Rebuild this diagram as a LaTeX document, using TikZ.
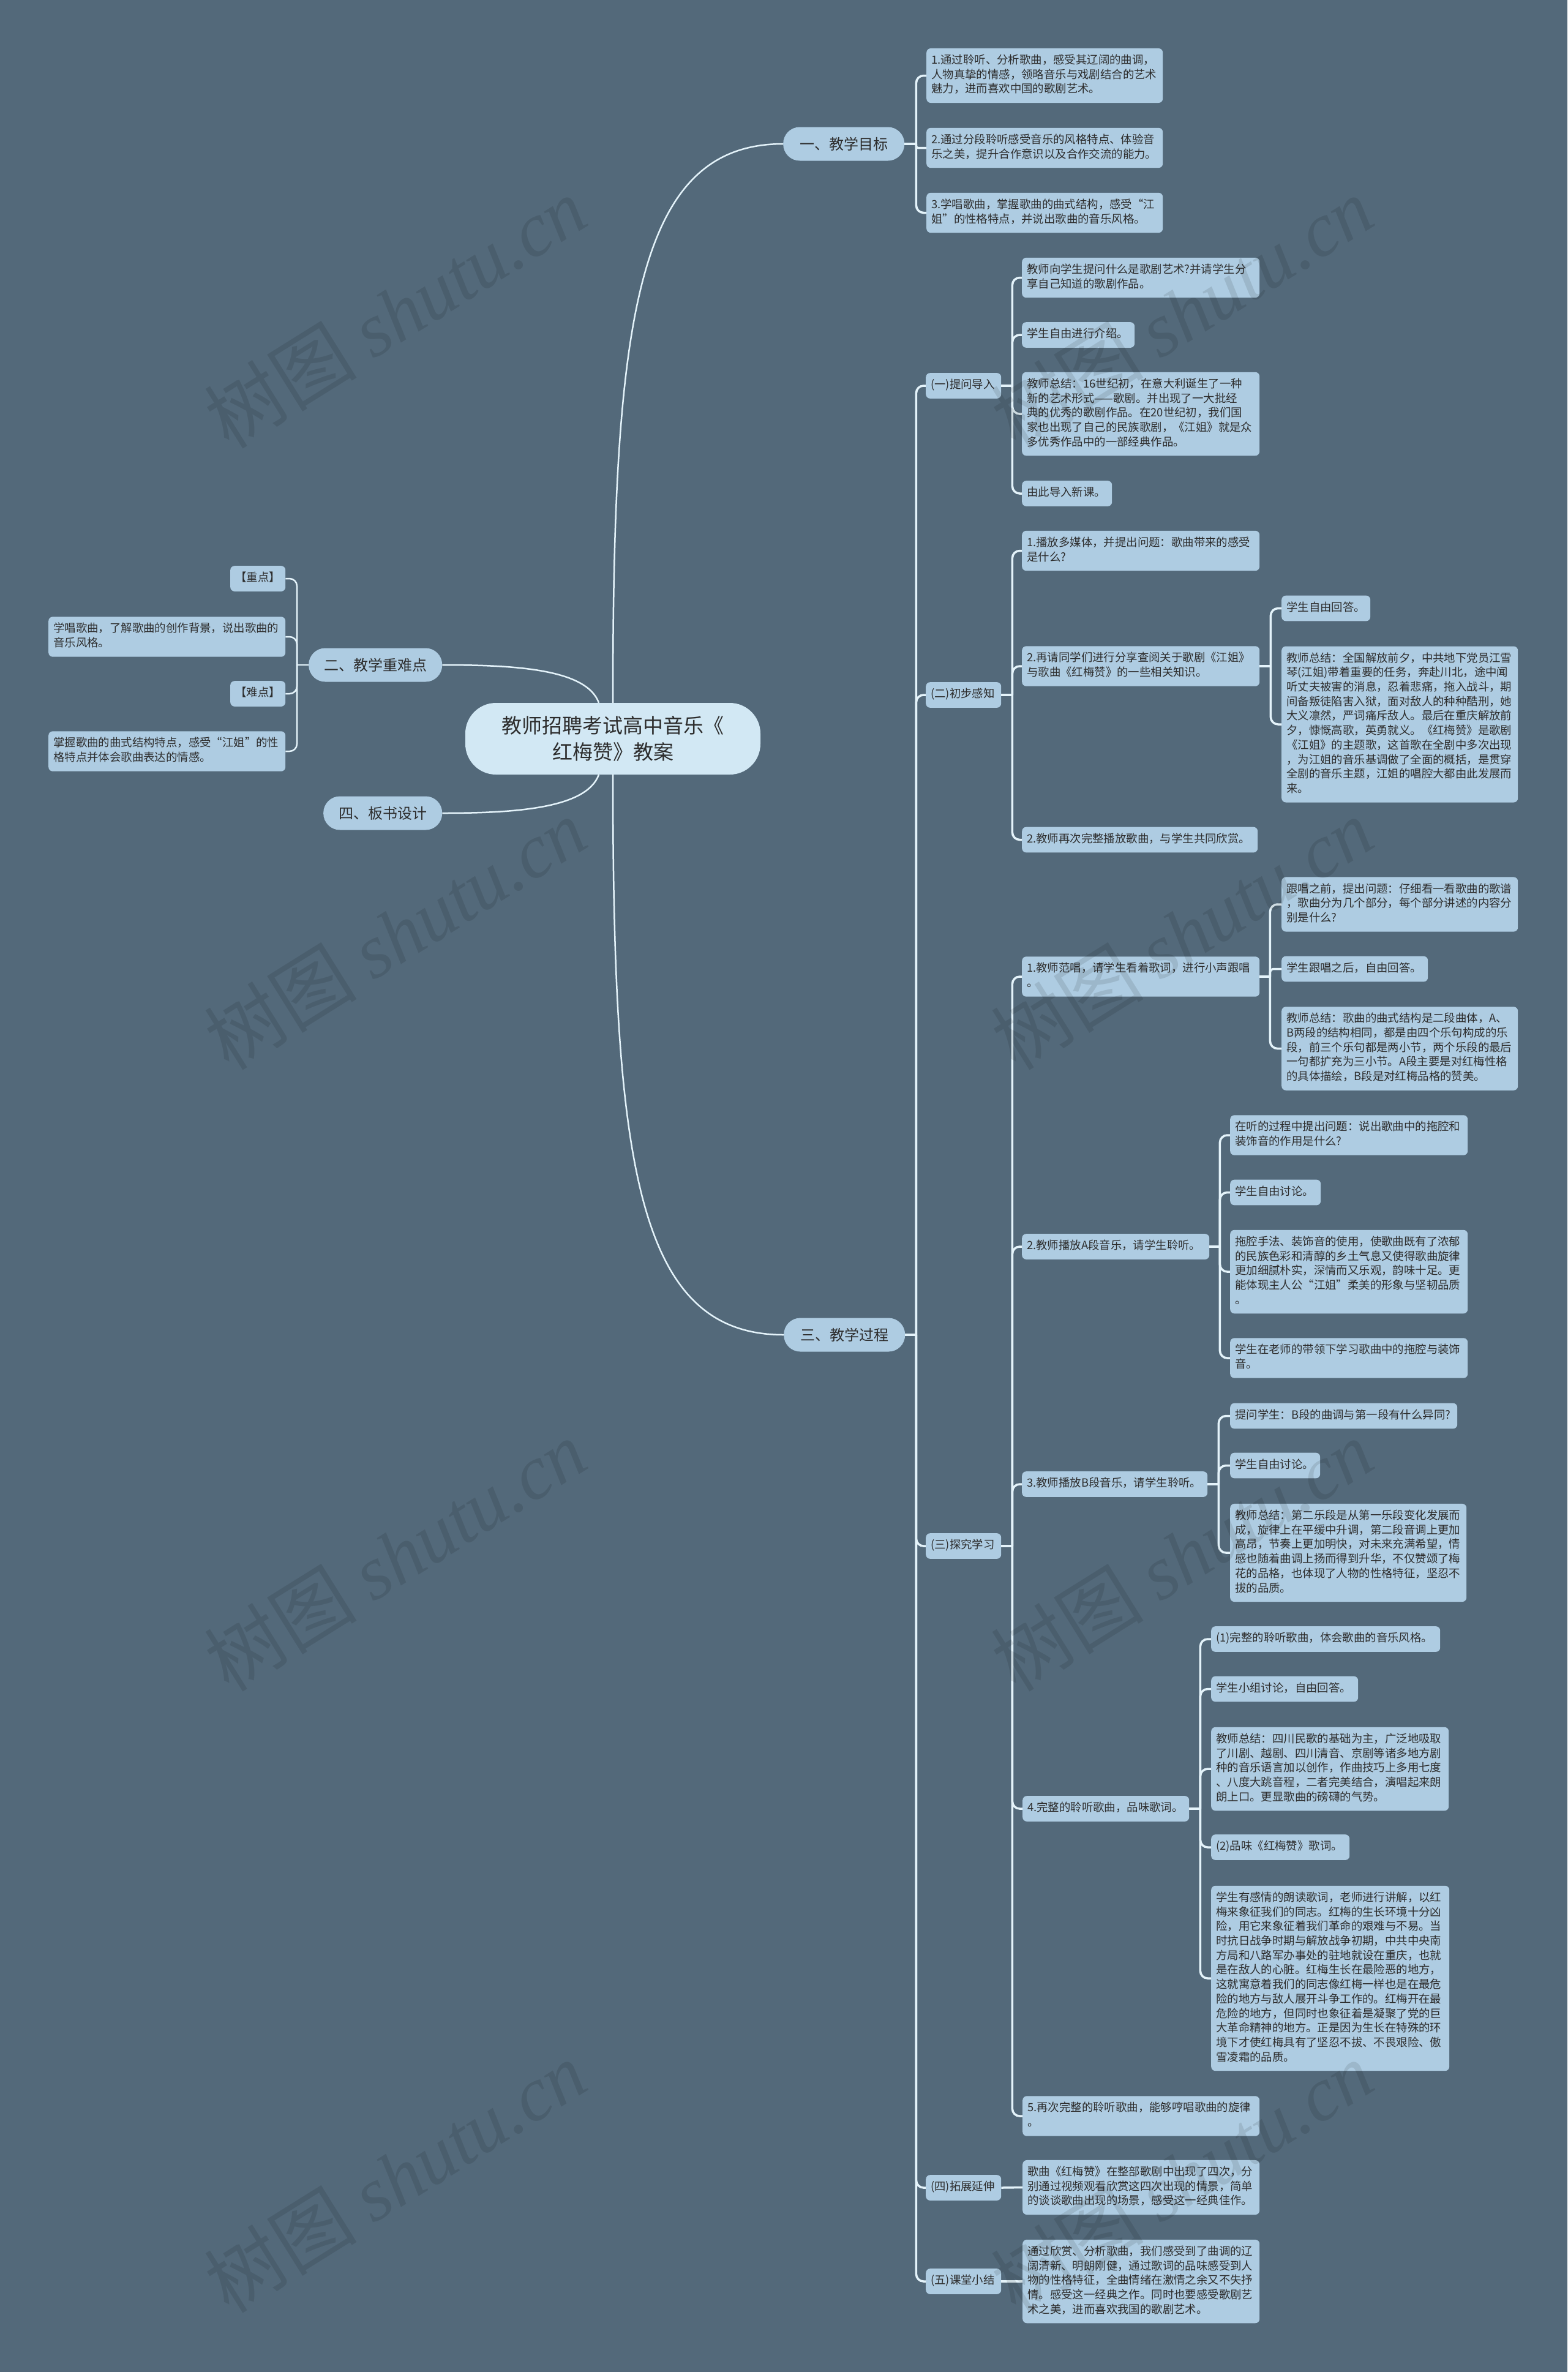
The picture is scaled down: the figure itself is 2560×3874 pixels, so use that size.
\documentclass[tikz,border=0pt]{standalone}
\usepackage{fontspec}
\setmainfont{Noto Sans CJK SC}
\newfontfamily\wmlatin{Liberation Serif}
\definecolor{bgc}{RGB}{83,105,122}
\definecolor{boxc}{RGB}{174,204,226}
\definecolor{rootc}{RGB}{210,232,244}
\definecolor{linec}{RGB}{228,243,250}
\definecolor{txtc}{RGB}{45,45,45}
\tikzset{
  leaf/.style={fill=boxc, rounded corners=7pt, inner xsep=8pt, inner ysep=9pt, align=left, anchor=west, text=txtc,
    font=\fontsize{18.4}{23.7}\selectfont, execute at begin node=\strut, execute at end node=\strut},
  lvl/.style={fill=boxc, rounded corners=27pt, minimum height=55pt, inner xsep=0pt, anchor=west, text=txtc,
    font=\fontsize{24}{28}\selectfont},
  rootbox/.style={fill=rootc, rounded corners=50pt, minimum width=482pt, minimum height=117pt, align=center, text=txtc,
    font=\fontsize{33}{43}\selectfont},
  conn/.style={draw=linec, line width=3.5pt, rounded corners=12pt},
  connl/.style={draw=linec, line width=2.5pt, rounded corners=12pt},
  rootconn/.style={draw=linec, line width=2.5pt},
  wm/.style={rotate=32, text=black, opacity=0.1, font=\fontsize{125}{130}\selectfont},
}
\begin{document}
\begin{tikzpicture}[x=1pt,y=-1pt]
\fill[bgc] (0,0) rectangle (2560,3874);
\useasboundingbox (0,0) rectangle (2560,3874);

% root and main branches
\node[rootbox] (root) at (1001,1206.5) {教师招聘考试高中音乐《\\红梅赞》教案};
\node[lvl, minimum width=198pt] (L1) at (1279,235) {一、教学目标};
\node[lvl, minimum width=218pt] (L2) at (504,1086) {二、教学重难点};
\node[lvl, minimum width=198pt] (L3) at (1280,2180) {三、教学过程};
\node[lvl, minimum width=194pt] (L4) at (528,1328) {四、板书设计};

% 一
\node[leaf, text width=370pt] (g1) at (1513,123.5) {1.通过聆听、分析歌曲，感受其辽阔的曲调，\\人物真挚的情感，领略音乐与戏剧结合的艺术\\魅力，进而喜欢中国的歌剧艺术。};
\node[leaf, text width=370pt] (g2) at (1513,241.5) {2.通过分段聆听感受音乐的风格特点、体验音\\乐之美，提升合作意识以及合作交流的能力。};
\node[leaf, text width=370pt] (g3) at (1513,347.5) {3.学唱歌曲，掌握歌曲的曲式结构，感受“江\\姐”的性格特点，并说出歌曲的音乐风格。};

% 二
\node[leaf, text width=74pt] (f1) at (376,945) {【重点】};
\node[leaf, text width=371pt] (f2) at (79,1040) {学唱歌曲，了解歌曲的创作背景，说出歌曲的\\音乐风格。};
\node[leaf, text width=74pt] (f3) at (376,1133) {【难点】};
\node[leaf, text width=371pt] (f4) at (79,1227) {掌握歌曲的曲式结构特点，感受“江姐”的性\\格特点并体会歌曲表达的情感。};

% 三
\node[leaf, text width=107pt] (s1) at (1512,630) {(一)提问导入};
\node[leaf, text width=107pt] (s2) at (1512,1135) {(二)初步感知};
\node[leaf, text width=107pt] (s3) at (1512,2525) {(三)探究学习};
\node[leaf, text width=107pt] (s4) at (1512,3573) {(四)拓展延伸};
\node[leaf, text width=107pt] (s5) at (1512,3726) {(五)课堂小结};

\node[leaf, text width=372pt] (c1) at (1669,453.5) {教师向学生提问什么是歌剧艺术?并请学生分\\享自己知道的歌剧作品。};
\node[leaf, text width=168pt] (c2) at (1669,547) {学生自由进行介绍。};
\node[leaf, text width=372pt] (c3) at (1669,676) {教师总结：16世纪初，在意大利诞生了一种\\新的艺术形式——歌剧。并出现了一大批经\\典的优秀的歌剧作品。在20世纪初，我们国\\家也出现了自己的民族歌剧，《江姐》就是众\\多优秀作品中的一部经典作品。};
\node[leaf, text width=131pt] (c4) at (1669,806) {由此导入新课。};

\node[leaf, text width=372pt] (d1) at (1669,899.5) {1.播放多媒体，并提出问题：歌曲带来的感受\\是什么?};
\node[leaf, text width=372pt] (d2) at (1669,1088) {2.再请同学们进行分享查阅关于歌剧《江姐》\\与歌曲《红梅赞》的一些相关知识。};
\node[leaf, text width=129pt] (d2a) at (2093,993.5) {学生自由回答。};
\node[leaf, text width=370pt] (d2b) at (2093,1183) {教师总结：全国解放前夕，中共地下党员江雪\\琴(江姐)带着重要的任务，奔赴川北，途中闻\\听丈夫被害的消息，忍着悲痛，拖入战斗，期\\间备叛徒陷害入狱，面对敌人的种种酷刑，她\\大义凛然，严词痛斥敌人。最后在重庆解放前\\夕，慷慨高歌，英勇就义。《红梅赞》是歌剧\\《江姐》的主题歌，这首歌在全剧中多次出现\\，为江姐的音乐基调做了全面的概括，是贯穿\\全剧的音乐主题，江姐的唱腔大都由此发展而\\来。};
\node[leaf, text width=369pt] (d3) at (1669,1371.5) {2.教师再次完整播放歌曲，与学生共同欣赏。};

\node[leaf, text width=372pt] (e1) at (1669,1595) {1.教师范唱，请学生看着歌词，进行小声跟唱\\。};
\node[leaf, text width=370pt] (e1a) at (2093,1477) {跟唱之前，提出问题：仔细看一看歌曲的歌谱\\，歌曲分为几个部分，每个部分讲述的内容分\\别是什么?};
\node[leaf, text width=223pt] (e1b) at (2093,1582.5) {学生跟唱之后，自由回答。};
\node[leaf, text width=370pt] (e1c) at (2093,1712.5) {教师总结：歌曲的曲式结构是二段曲体，A、\\B两段的结构相同，都是由四个乐句构成的乐\\段，前三个乐句都是两小节，两个乐段的最后\\一句都扩充为三小节。A段主要是对红梅性格\\的具体描绘，B段是对红梅品格的赞美。};

\node[leaf, text width=290pt] (e2) at (1669,2036) {2.教师播放A段音乐，请学生聆听。};
\node[leaf, text width=372pt] (e2a) at (2009,1854) {在听的过程中提出问题：说出歌曲中的拖腔和\\装饰音的作用是什么?};
\node[leaf, text width=132pt] (e2b) at (2009,1947.5) {学生自由讨论。};
\node[leaf, text width=372pt] (e2c) at (2009,2077) {拖腔手法、装饰音的使用，使歌曲既有了浓郁\\的民族色彩和清醇的乡土气息又使得歌曲旋律\\更加细腻朴实，深情而又乐观，韵味十足。更\\能体现主人公“江姐”柔美的形象与坚韧品质\\。};
\node[leaf, text width=372pt] (e2d) at (2009,2218) {学生在老师的带领下学习歌曲中的拖腔与装饰\\音。};

\node[leaf, text width=287pt] (e3) at (1669,2424) {3.教师播放B段音乐，请学生聆听。};
\node[leaf, text width=355pt] (e3a) at (2009,2312.5) {提问学生：B段的曲调与第一段有什么异同?};
\node[leaf, text width=131pt] (e3b) at (2009,2393.5) {学生自由讨论。};
\node[leaf, text width=370pt] (e3c) at (2009,2536) {教师总结：第二乐段是从第一乐段变化发展而\\成，旋律上在平缓中升调，第二段音调上更加\\高昂，节奏上更加明快，对未来充满希望，情\\感也随着曲调上扬而得到升华，不仅赞颂了梅\\花的品格，也体现了人物的性格特征，坚忍不\\拔的品质。};

\node[leaf, text width=256pt] (e4) at (1670,2954) {4.完整的聆听歌曲，品味歌词。};
\node[leaf, text width=358pt] (e4a) at (1978,2677) {(1)完整的聆听歌曲，体会歌曲的音乐风格。};
\node[leaf, text width=224pt] (e4b) at (1978,2758.5) {学生小组讨论，自由回答。};
\node[leaf, text width=372pt] (e4c) at (1978,2889) {教师总结：四川民歌的基础为主，广泛地吸取\\了川剧、越剧、四川清音、京剧等诸多地方剧\\种的音乐语言加以创作，作曲技巧上多用七度\\、八度大跳音程，二者完美结合，演唱起来朗\\朗上口。更显歌曲的磅礴的气势。};
\node[leaf, text width=210pt] (e4d) at (1978,3017) {(2)品味《红梅赞》歌词。};
\node[leaf, text width=373pt] (e4e) at (1978,3231) {学生有感情的朗读歌词，老师进行讲解，以红\\梅来象征我们的同志。红梅的生长环境十分凶\\险，用它来象征着我们革命的艰难与不易。当\\时抗日战争时期与解放战争初期，中共中央南\\方局和八路军办事处的驻地就设在重庆，也就\\是在敌人的心脏。红梅生长在最险恶的地方，\\这就寓意着我们的同志像红梅一样也是在最危\\险的地方与敌人展开斗争工作的。红梅开在最\\危险的地方，但同时也象征着是凝聚了党的巨\\大革命精神的地方。正是因为生长在特殊的环\\境下才使红梅具有了坚忍不拔、不畏艰险、傲\\雪凌霜的品质。};

\node[leaf, text width=371pt] (e5) at (1670,3456) {5.再次完整的聆听歌曲，能够哼唱歌曲的旋律\\。};
\node[leaf, text width=371pt] (t4) at (1670,3572.5) {歌曲《红梅赞》在整部歌剧中出现了四次，分\\别通过视频观看欣赏这四次出现的情景，简单\\的谈谈歌曲出现的场景，感受这一经典佳作。};
\node[leaf, text width=371pt] (t5) at (1670,3726) {通过欣赏、分析歌曲，我们感受到了曲调的辽\\阔清新、明朗刚健，通过歌词的品味感受到人\\物的性格特征，全曲情绪在激情之余又不失抒\\情。感受这一经典之作。同时也要感受歌剧艺\\术之美，进而喜欢我国的歌剧艺术。};

% connectors from root
\draw[rootconn] (root.north) .. controls (1001,520) and (1040,235) .. (L1.west);
\draw[rootconn] (root.south) .. controls (1001,1900) and (1040,2180) .. (L3.west);
\draw[rootconn] ([xshift=-23pt]root.north) .. controls +(-20,-55) and +(120,0) .. (L2.east);
\draw[rootconn] ([xshift=-23pt]root.south) .. controls +(-20,55) and +(120,0) .. (L4.east);

% 一
\draw[conn] (L1.east) -- ++(19,0) coordinate (L1s);
\draw[conn] (L1s) |- (g1.west);
\draw[conn, rounded corners=3pt] (L1s) |- (g2.west);
\draw[conn] (L1s) |- (g3.west);

% 二 (left side)
\draw[connl] (L2.west) -- ++(-19,0) coordinate (L2s);
\foreach \n in {f1,f2,f3,f4} \draw[connl] (L2s) |- (\n.east);

% 三
\draw[conn] (L3.east) -- ++(18,0) coordinate (L3s);
\foreach \n in {s1,s2,s3,s4,s5} \draw[conn] (L3s) |- (\n.west);

\draw[conn] (s1.east) -- ++(18,0) coordinate (s1s);
\foreach \n in {c1,c2,c3,c4} \draw[conn] (s1s) |- (\n.west);

\draw[conn] (s2.east) -- ++(18,0) coordinate (s2s);
\foreach \n in {d1,d2,d3} \draw[conn] (s2s) |- (\n.west);

\draw[conn] (d2.east) -- ++(18,0) coordinate (d2s);
\foreach \n in {d2a,d2b} \draw[conn] (d2s) |- (\n.west);

\draw[conn] (s3.east) -- ++(18,0) coordinate (s3s);
\foreach \n in {e1,e2,e3,e4,e5} \draw[conn] (s3s) |- (\n.west);

\draw[conn] (e1.east) -- ++(17,0) coordinate (e1s);
\draw[conn] (e1s) |- (e1a.west);
\draw[conn, rounded corners=5pt] (e1s) |- (e1b.west);
\draw[conn] (e1s) |- (e1c.west);

\draw[conn] (e2.east) -- ++(17,0) coordinate (e2s);
\foreach \n in {e2a,e2b,e2c,e2d} \draw[conn] (e2s) |- (\n.west);

\draw[conn] (e3.east) -- ++(18,0) coordinate (e3s);
\foreach \n in {e3a,e3b,e3c} \draw[conn] (e3s) |- (\n.west);

\draw[conn] (e4.east) -- ++(18,0) coordinate (e4s);
\foreach \n in {e4a,e4b,e4c,e4d,e4e} \draw[conn] (e4s) |- (\n.west);

\draw[conn] (s4.east) -- (t4.west);
\draw[conn] (s5.east) -- (t5.west);

% watermarks
\foreach \y in {510,1525,2540,3555} {
  \node[wm] (wmL\y) at (645,\y) {树图 {\wmlatin\itshape shutu.cn}};
  \node[wm] (wmR\y) at (1930,\y) {树图 {\wmlatin\itshape shutu.cn}};
}
\end{tikzpicture}
\end{document}
